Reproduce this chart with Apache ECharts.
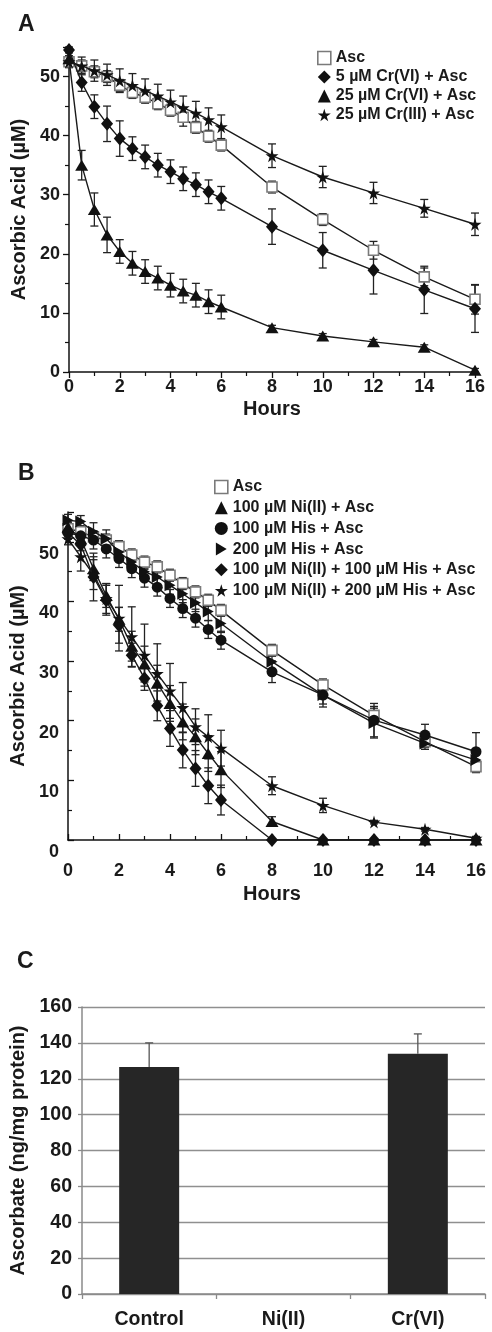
<!DOCTYPE html>
<html>
<head>
<meta charset="utf-8">
<script src="https://cdn.jsdelivr.net/npm/echarts@6/dist/echarts.min.js"></script>
<style>
html,body{margin:0;padding:0;background:#fff;}
#chart{width:492px;height:1332px;}
</style>
</head>
<body>
<div id="chart"></div>
<script>
// ---------- DATA ----------
const hours = [0,0.5,1,1.5,2,2.5,3,3.5,4,4.5,5,5.5,6,8,10,12,14,16];
const xTicksHours = [0,2,4,6,8,10,12,14,16];

// Panel A
const namesA = ['Asc','5 µM Cr(VI) + Asc','25 µM Cr(VI) + Asc','25 µM Cr(III) + Asc'];
const ascA     = [52.5,51.8,50.8,50.0,48.5,47.3,46.5,45.4,44.3,43.1,41.4,39.9,38.4,31.3,25.8,20.6,16.1,12.3];
const ascAErr  = [1,1,1,1,1,1,1,1,1,1.5,1,1,1,1,1,1.5,1.5,2.5];
const crVI5A   = [54.5,49.0,44.9,42.0,39.5,37.8,36.4,35.0,33.9,32.7,31.7,30.5,29.4,24.6,20.6,17.2,13.9,10.7];
const crVI5AErr= [0.5,1.5,2,3,3,2,2,2,2,2,2,2,2,3,3,4,4,4];
const crVI25A  = [53.0,35.0,27.5,23.2,20.4,18.4,17.0,15.9,14.7,13.7,13.0,11.9,11.0,7.5,6.1,5.1,4.2,0.3];
const crVI25AErr=[0.5,2.5,2.8,3,2,2,2,2,2,2,2,2,2,0.4,0.4,0.4,0.4,0.3];
const crIII25A = [52.5,51.8,51.0,50.3,49.3,48.5,47.6,46.7,45.7,44.7,43.8,42.7,41.5,36.6,33.0,30.3,27.7,25.0];
const crIII25AErr=[0.5,1.5,1.8,1.8,2,2,2,2,2,2,2,2,2,2,1.8,1.8,1.5,1.9];

// Panel B
const namesB = ['Asc','100 µM Ni(II) + Asc','100 µM His + Asc','200 µM His + Asc','100 µM Ni(II) + 100 µM His + Asc','100 µM Ni(II) + 200 µM His + Asc'];
const ascB      = [52.2,51.7,50.8,50.3,49.2,47.8,46.6,45.8,44.4,43.0,41.6,40.2,38.5,31.8,26.0,20.9,16.5,12.3];
const ascBErr   = [1,1,1,1,1,1,1,1,1,1,1,1,1,1,1,1.5,1,1];
const niB       = [52.5,50.5,45.5,41.0,37.0,32.5,29.5,26.3,22.9,19.8,17.3,14.5,11.8,3.1,0,0,0,0];
const niBErr    = [1,2,2,2,2,2.5,3,3,3,3,3,3,3,0.8,0,0,0,0];
const his100B   = [51.5,51.0,50.3,48.8,47.2,45.5,43.9,42.4,40.5,38.8,37.2,35.3,33.5,28.2,24.3,20.1,17.6,14.8];
const his100BErr= [1,1.5,1.5,1.5,1.5,1.5,1.5,1.5,1.5,1.5,1.5,1.5,1.5,1.8,2,2.8,1.8,3.2];
const his200B   = [53.6,53.4,51.7,50.5,48.3,46.6,45.0,44.1,42.7,41.3,39.8,38.3,36.3,29.9,24.3,19.6,16.2,13.4];
const his200BErr= [1,1,1.5,1.5,1.5,1.5,1.5,1.5,1.5,1.5,1.5,1.5,1.5,1.5,1.5,2.5,1,1];
const niHis100B = [51.5,49.5,44.1,40.2,36.0,31.0,27.1,22.5,18.7,15.1,12.0,9.1,6.7,0,0,0,0,0];
const niHis100BErr=[1,2,4,2.5,3,2,2,2.5,3,3,3,3,2.5,0,0,0,0,0];
const niHis200B = [50.5,47.5,44.5,40.5,37.2,34.1,31.0,27.9,25.0,22.2,19.0,17.3,15.4,9.1,5.8,3.0,1.8,0.3];
const niHis200BErr=[1,2.4,2.5,2.5,5.5,5,5.2,5,4.6,4.2,3,3.7,3,1.5,1.2,0.3,0.3,0.3];

// Panel C
const catsC = ['Control','Ni(II)','Cr(VI)'];
const valsC = [126.5,0,134];
const errC  = [13.5,0,11];

// ---------- STYLE HELPERS ----------
const STAR = 'path://M50,0L61,35L98,35L68,57L79,91L50,70L21,91L32,57L2,35L39,35Z';
const RTRI = 'path://M0,0L10,6L0,12Z';
const TXT = '#1a1a1a';
const FONT = 'Liberation Sans, Arial, sans-serif';

const SYM = {
  square:  {symbol:'rect', size:[10,10], item:{color:'#fff', borderColor:'#7a7a7a', borderWidth:1.6}},
  diamond: {symbol:'diamond', size:[12,14], item:{color:'#111'}},
  triangle:{symbol:'triangle', size:[13,11], item:{color:'#111'}},
  star:    {symbol:STAR, size:[13,13], item:{color:'#111'}},
  circle:  {symbol:'circle', size:[11,11], item:{color:'#111'}},
  rtri:    {symbol:RTRI, size:[11,12], item:{color:'#111'}}
};

function lineSeries(name, gi, vals, sym, z){
  const s = SYM[sym];
  return {
    name, type:'line', xAxisIndex:gi, yAxisIndex:gi,
    data: hours.map((h,i)=>[h, vals[i]]),
    symbol:s.symbol, symbolSize:s.size, showAllSymbol:true,
    itemStyle:Object.assign({}, s.item),
    lineStyle:{color:'#1a1a1a', width:1.4},
    emphasis:{disabled:true}, silent:true, animation:false, z:z||3
  };
}
function errSeries(gi, vals, errs){
  const d = [];
  hours.forEach((h,i)=>{ if(errs[i] > 0.2) d.push([h, Math.max(0, vals[i]-errs[i]), vals[i]+errs[i]]); });
  return {
    type:'custom', xAxisIndex:gi, yAxisIndex:gi, silent:true, animation:false, z:2,
    data:d, encode:{x:0, y:[1,2]},
    renderItem:(params, api)=>{
      const x = api.value(0);
      const lo = api.coord([x, api.value(1)]);
      const hi = api.coord([x, api.value(2)]);
      const w = 4, st = {stroke:'#222', lineWidth:1.3};
      return {type:'group', children:[
        {type:'line', shape:{x1:lo[0],y1:lo[1],x2:hi[0],y2:hi[1]}, style:st},
        {type:'line', shape:{x1:lo[0]-w,y1:lo[1],x2:lo[0]+w,y2:lo[1]}, style:st},
        {type:'line', shape:{x1:hi[0]-w,y1:hi[1],x2:hi[0]+w,y2:hi[1]}, style:st}
      ]};
    }
  };
}
function legendItem(name, sym){
  const s = SYM[sym];
  return {name, icon:s.symbol, itemStyle:Object.assign({}, s.item)};
}

const chart = echarts.init(document.getElementById('chart'), null, {renderer:'canvas'});

const axisLineBlack = {show:true, lineStyle:{color:'#111', width:1.5}};
const hoursAxis = (gi, inside, labelMargin, nameGap)=>({
  type:'value', gridIndex:gi, min:0, max:16, interval:2,
  axisLine:axisLineBlack,
  axisTick:{show:true, inside:inside, length:6, lineStyle:{color:'#111', width:1.3}},
  minorTick:{show:true, splitNumber:2, length:4, lineStyle:{color:'#111', width:1.2}},
  splitLine:{show:false},
  axisLabel:{color:TXT, fontSize:18, fontWeight:'bold', fontFamily:FONT, margin:labelMargin,
             formatter:(v)=> xTicksHours.indexOf(v) >= 0 ? String(v) : ''},
  name:'Hours', nameLocation:'middle', nameGap:nameGap,
  nameTextStyle:{color:TXT, fontSize:20, fontWeight:'bold', fontFamily:FONT}
});
const ascorbicAxis = (gi, inside, shifted)=>({
  type:'value', gridIndex:gi, min:0, max:55, interval:10,
  axisLine:axisLineBlack,
  axisTick:{show:true, inside:inside, length:6, lineStyle:{color:'#111', width:1.3}},
  minorTick:{show:true, splitNumber:2, length:4, lineStyle:{color:'#111', width:1.2}},
  splitLine:{show:false},
  axisLabel:Object.assign({color:TXT, fontSize:18, fontWeight:'bold', fontFamily:FONT, margin:9, showMaxLabel:false},
             shifted ? {verticalAlign:'top', lineHeight:24} : {}),
  name:'Ascorbic Acid (µM)', nameLocation:'middle', nameGap:34,
  nameTextStyle:{color:TXT, fontSize:20, fontWeight:'bold', fontFamily:FONT}
});

const legendText = {color:TXT, fontSize:16, fontWeight:'bold', fontFamily:FONT, lineHeight:16};

const option = {
  backgroundColor:'#fff',
  animation:false,
  title:[
    {text:'A', left:13, top:8, textStyle:{fontSize:23, fontWeight:'bold', color:TXT, fontFamily:FONT}},
    {text:'B', left:13, top:457, textStyle:{fontSize:23, fontWeight:'bold', color:TXT, fontFamily:FONT}},
    {text:'C', left:12, top:945, textStyle:{fontSize:23, fontWeight:'bold', color:TXT, fontFamily:FONT}}
  ],
  grid:[
    {left:69, top:47, width:406, height:325},
    {left:68, top:512, width:408, height:328},
    {left:82, top:1007, width:403, height:287}
  ],
  legend:[
    {orient:'vertical', left:312, top:45, itemWidth:13, itemHeight:13, itemGap:3, selectedMode:false,
     textStyle:legendText,
     data:[legendItem(namesA[0],'square'), legendItem(namesA[1],'diamond'), legendItem(namesA[2],'triangle'), legendItem(namesA[3],'star')]},
    {orient:'vertical', left:209, top:474, itemWidth:13, itemHeight:13, itemGap:4.7, selectedMode:false,
     textStyle:legendText,
     data:[legendItem(namesB[0],'square'), legendItem(namesB[1],'triangle'), legendItem(namesB[2],'circle'),
           legendItem(namesB[3],'rtri'), legendItem(namesB[4],'diamond'), legendItem(namesB[5],'star')]}
  ],
  xAxis:[
    hoursAxis(0, false, 6, 27),
    hoursAxis(1, true, 22, 44),
    {type:'category', gridIndex:2, data:catsC,
     axisLine:{show:true, lineStyle:{color:'#8a8a8a', width:1.5}},
     axisTick:{show:true, alignWithLabel:false, length:5, lineStyle:{color:'#8a8a8a', width:1.3}},
     axisLabel:{color:TXT, fontSize:19.5, fontWeight:'bold', fontFamily:FONT, margin:16}}
  ],
  yAxis:[
    ascorbicAxis(0, false, false),
    ascorbicAxis(1, true, true),
    {type:'value', gridIndex:2, min:0, max:160, interval:20,
     axisLine:{show:true, lineStyle:{color:'#8a8a8a', width:1.5}},
     axisTick:{show:true, length:4, lineStyle:{color:'#8a8a8a', width:1.3}},
     splitLine:{show:true, lineStyle:{color:'#8f8f8f', width:1.3}},
     axisLabel:{color:TXT, fontSize:19.5, fontWeight:'bold', fontFamily:FONT, margin:10},
     name:'Ascorbate (ng/mg protein)', nameLocation:'middle', nameGap:47,
     nameTextStyle:{color:TXT, fontSize:20, fontWeight:'bold', fontFamily:FONT}}
  ],
  series:[
    // Panel A
    errSeries(0, ascA, ascAErr),
    errSeries(0, crVI5A, crVI5AErr),
    errSeries(0, crVI25A, crVI25AErr),
    errSeries(0, crIII25A, crIII25AErr),
    lineSeries(namesA[0], 0, ascA, 'square', 3),
    lineSeries(namesA[1], 0, crVI5A, 'diamond', 4),
    lineSeries(namesA[2], 0, crVI25A, 'triangle', 4),
    lineSeries(namesA[3], 0, crIII25A, 'star', 5),
    // Panel B
    errSeries(1, ascB, ascBErr),
    errSeries(1, niB, niBErr),
    errSeries(1, his100B, his100BErr),
    errSeries(1, his200B, his200BErr),
    errSeries(1, niHis100B, niHis100BErr),
    errSeries(1, niHis200B, niHis200BErr),
    lineSeries(namesB[0], 1, ascB, 'square', 3),
    lineSeries(namesB[1], 1, niB, 'triangle', 4),
    lineSeries(namesB[2], 1, his100B, 'circle', 4),
    lineSeries(namesB[3], 1, his200B, 'rtri', 4),
    lineSeries(namesB[4], 1, niHis100B, 'diamond', 5),
    lineSeries(namesB[5], 1, niHis200B, 'star', 5),
    // Panel C
    {type:'bar', xAxisIndex:2, yAxisIndex:2, data:valsC, barWidth:60, silent:true, animation:false,
     itemStyle:{color:'#262626', borderWidth:0}, z:3},
    {type:'custom', xAxisIndex:2, yAxisIndex:2, silent:true, animation:false, z:4,
     data:catsC.map((c,i)=>[i, valsC[i], valsC[i]+errC[i]]).filter(d=>d[2]>d[1]),
     encode:{x:0, y:[1,2]},
     renderItem:(params, api)=>{
       const i = api.value(0);
       const lo = api.coord([i, api.value(1)]);
       const hi = api.coord([i, api.value(2)]);
       const st = {stroke:'#555', lineWidth:1.3};
       return {type:'group', children:[
         {type:'line', shape:{x1:lo[0],y1:lo[1],x2:hi[0],y2:hi[1]}, style:st},
         {type:'line', shape:{x1:hi[0]-4,y1:hi[1],x2:hi[0]+4,y2:hi[1]}, style:st}
       ]};
     }}
  ]
};
chart.setOption(option);
</script>
</body>
</html>
